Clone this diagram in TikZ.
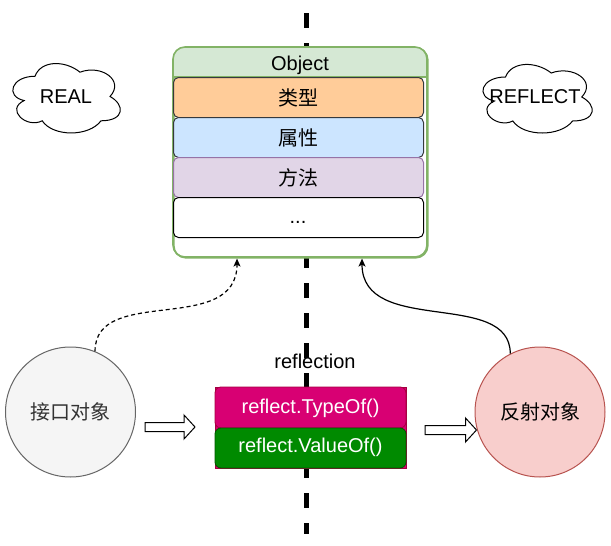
\documentclass[tikz,border=0pt]{standalone}
\usepackage{fontspec}
\setmainfont{Liberation Sans}
\newfontfamily\cjk{Noto Sans CJK SC}
\usetikzlibrary{arrows.meta,calc}
\definecolor{objstroke}{HTML}{82B366}
\definecolor{objfill}{HTML}{D5E8D4}
\definecolor{orangefill}{HTML}{FFCC99}
\definecolor{darkstroke}{HTML}{36393D}
\definecolor{bluefill}{HTML}{CCE5FF}
\definecolor{purplefill}{HTML}{E1D5E7}
\definecolor{purplestroke}{HTML}{9673A6}
\definecolor{magfill}{HTML}{D80073}
\definecolor{magstroke}{HTML}{A50040}
\definecolor{grnfill}{HTML}{008A00}
\definecolor{grnstroke}{HTML}{005700}
\definecolor{grayfill}{HTML}{F5F5F5}
\definecolor{graystroke}{HTML}{666666}
\definecolor{graytext}{HTML}{333333}
\definecolor{pinkfill}{HTML}{F8CECC}
\definecolor{pinkstroke}{HTML}{B85450}
\tikzset{
  rowbox/.style={draw, line width=1pt, rounded corners=5pt, minimum width=250pt, minimum height=40pt, inner sep=0pt, anchor=north west},
  bigcircle/.style={circle, draw, line width=1pt, minimum size=130pt, inner sep=0pt},
  funcbox/.style={draw, line width=0.8pt, minimum width=191pt, inner sep=0pt},
  hollow/.style={draw=black, fill=white, line width=1pt},
  cloudline/.style={draw=black, line width=1pt, fill=white},
  link/.style={line width=1.2pt, -{Stealth[length=8pt,width=7pt,inset=2pt]}},
  label/.style={anchor=base, inner sep=0pt},
  zh/.style={font=\fontsize{20}{24}\cjk}
}
\newcommand\cloudpath{(0.25,0.25) .. controls (0.05,0.25) and (0,0.5) .. (0.16,0.55)
  .. controls (0,0.66) and (0.18,0.9) .. (0.31,0.8)
  .. controls (0.4,1) and (0.7,1) .. (0.8,0.8)
  .. controls (1,0.8) and (1,0.6) .. (0.875,0.5)
  .. controls (1,0.3) and (0.8,0.1) .. (0.625,0.2)
  .. controls (0.5,0.05) and (0.3,0.05) .. (0.25,0.25) -- cycle}
\newcommand\hollowarrow[3]{%
  \draw[hollow] (#1,#2-4.5) -- (#3-11,#2-4.5) -- (#3-11,#2-12) -- (#3,#2)
    -- (#3-11,#2+12) -- (#3-11,#2+4.5) -- (#1,#2+4.5) -- cycle;}
\begin{document}
\begin{tikzpicture}[x=1pt,y=-1pt,font=\fontsize{20}{24}\selectfont]
\useasboundingbox (0,0) rectangle (611,546);
% divider
\draw[line width=5pt, dash pattern=on 15pt off 15pt] (306,13) -- (306,534);
% container
\node (obj) [draw=objstroke, line width=1.6pt, rounded corners=12pt, fill=white,
  minimum width=254pt, minimum height=210pt, inner sep=0pt, anchor=north west] at (173,47) {};
\begin{scope}
  \clip[rounded corners=12pt] (173,47) rectangle (427,257);
  \fill[objfill] (173,47) rectangle (427,77);
\end{scope}
\draw[objstroke, line width=1.6pt] (173,77) -- (427,77);
\draw[objstroke, line width=1.6pt, rounded corners=12pt] (173,47) rectangle (427,257);
\node (objtitle) [label] at (300,70.5) {Object};
\node (rtype) [rowbox, draw=darkstroke, fill=orangefill, zh] at (173,77) {类型};
\node (rattr) [rowbox, draw=darkstroke, fill=bluefill, zh] at (173,117) {属性};
\node (rmeth) [rowbox, draw=purplestroke, fill=purplefill, zh] at (173,157) {方法};
\node (rmore) [rowbox, draw=black, fill=white] at (173,197) {};
\node (dots) [label] at (298,223) {...};
% clouds
\begin{scope}[shift={(5,56)}, x=120pt, y=-81pt]
  \path[cloudline] \cloudpath;
\end{scope}
\node (real) [label] at (66,103) {REAL};
\begin{scope}[shift={(475,57)}, x=122pt, y=-80pt]
  \path[cloudline] \cloudpath;
\end{scope}
\node (reflect) [label] at (535,103) {REFLECT};
% circles
\node (ifc) [bigcircle, draw=graystroke, fill=grayfill, text=graytext, zh] at (70.5,412) {接口对象};
\node (robj) [bigcircle, draw=pinkstroke, fill=pinkfill, zh] at (540,412) {反射对象};
% reflection block
\node (refl) [funcbox, draw=magstroke, fill=magfill, minimum height=81pt] at (310.5,427.5) {};
\node (typeof) [funcbox, draw=magstroke, fill=magfill, rounded corners=6pt, minimum height=41pt] at (310.5,407.5) {};
\node (valueof) [funcbox, draw=grnstroke, fill=grnfill, rounded corners=6pt, minimum height=40pt] at (310.5,448) {};
\node (typetext) [label, text=white] at (310.5,413.5) {reflect.TypeOf()};
\node (valuetext) [label, text=white] at (310.5,452.5) {reflect.ValueOf()};
\node (rlabel) [label] at (315,368) {reflection};
% hollow arrows
\hollowarrow{145}{427}{195}
\hollowarrow{425}{430}{476.5}
% links
\draw[link, dash pattern=on 4pt off 3pt] (ifc.68) .. controls +(0,-67) and +(0,78) .. ([xshift=64pt]obj.south west);
\draw[link] (robj.117) .. controls +(0,-65) and +(0,78) .. ([xshift=189pt]obj.south west);
\end{tikzpicture}
\end{document}
